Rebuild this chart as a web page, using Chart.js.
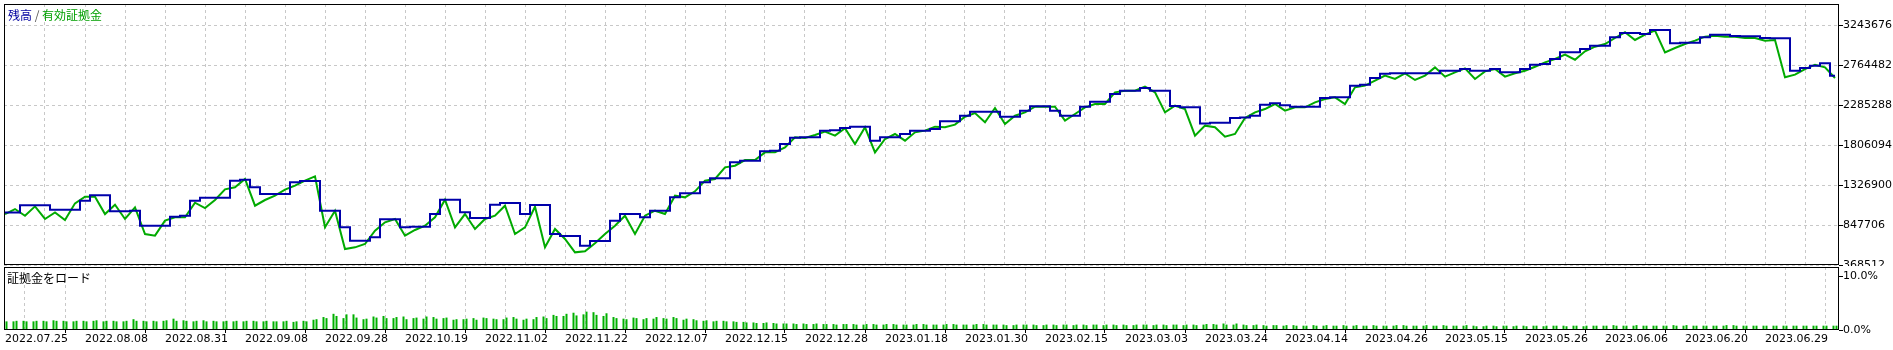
<!DOCTYPE html>
<html>
<head>
<meta charset="utf-8">
<script src="https://cdn.jsdelivr.net/npm/chart.js@4.4.0/dist/chart.umd.min.js"></script>
<style>
html, body { margin: 0; padding: 0; background: #fff; }
#wrap { position: relative; width: 1893px; height: 350px; overflow: hidden; background: #fff; }
#mainBox { position: absolute; left: 0; top: 0; width: 1893px; height: 268px; }
#loadBox { position: absolute; left: 0; top: 266px; width: 1893px; height: 84px; background: #fff; }
.cap { position: absolute; font: 12px "Noto Sans CJK JP", sans-serif; line-height: 14px; white-space: nowrap; }
</style>
</head>
<body>
<div id="wrap">
  <div id="mainBox"><canvas id="mainChart"></canvas></div>
  <div id="loadBox"><canvas id="loadChart"></canvas></div>
  <div class="cap" style="left:8px;top:8px"><span style="color:#0000a0">残高</span><span style="color:#555"> / </span><span style="color:#00a000">有効証拠金</span></div>
  <div class="cap" style="left:7px;top:271px;color:#000">証拠金をロード</div>
</div>
<script>
// --- DONNÉES ---
const dateLabels = ['2022.07.25','2022.08.08','2022.08.31','2022.09.08','2022.09.28','2022.10.19','2022.11.02','2022.11.22',
  '2022.12.07','2022.12.15','2022.12.28','2023.01.18','2023.01.30','2023.02.15','2023.03.03','2023.03.24',
  '2023.04.14','2023.04.26','2023.05.15','2023.05.26','2023.06.06','2023.06.20','2023.06.29'];

const priceTicks = [368512, 847706, 1326900, 1806094, 2285288, 2764482, 3243676];
const loadTicks = [0, 10];

// 残高 (balance)
const balance = [
  996000, 996000, 1083000, 1083000, 1083000, 1031000, 1031000, 1031000, 1139000, 1203000,
  1203000, 1011000, 1011000, 1019000, 840000, 840000, 840000, 947000, 959000, 1139000,
  1175000, 1175000, 1175000, 1379000, 1391000, 1299000, 1219000, 1219000, 1219000, 1359000,
  1375000, 1375000, 1019000, 1019000, 820000, 660000, 660000, 700000, 916000, 916000,
  820000, 828000, 828000, 979000, 1151000, 1151000, 999000, 932000, 932000, 1091000,
  1111000, 1111000, 979000, 1087000, 1087000, 740000, 716000, 716000, 600000, 656000,
  656000, 900000, 979000, 979000, 940000, 1019000, 1019000, 1179000, 1227000, 1227000,
  1359000, 1407000, 1407000, 1598000, 1618000, 1618000, 1730000, 1738000, 1818000, 1894000,
  1898000, 1898000, 1978000, 1982000, 2010000, 2026000, 2026000, 1858000, 1898000, 1898000,
  1938000, 1978000, 1978000, 1998000, 2090000, 2090000, 2157000, 2205000, 2205000, 2205000,
  2145000, 2145000, 2217000, 2269000, 2269000, 2217000, 2157000, 2157000, 2265000, 2325000,
  2325000, 2417000, 2457000, 2457000, 2489000, 2457000, 2457000, 2273000, 2257000, 2257000,
  2065000, 2073000, 2073000, 2129000, 2137000, 2157000, 2289000, 2305000, 2281000, 2265000,
  2265000, 2265000, 2369000, 2377000, 2377000, 2517000, 2529000, 2609000, 2661000, 2665000,
  2665000, 2665000, 2665000, 2665000, 2696000, 2696000, 2716000, 2696000, 2696000, 2716000,
  2677000, 2677000, 2716000, 2768000, 2776000, 2836000, 2916000, 2916000, 2956000, 2996000,
  2996000, 3096000, 3148000, 3148000, 3136000, 3184000, 3184000, 3024000, 3032000, 3032000,
  3096000, 3128000, 3128000, 3112000, 3108000, 3108000, 3088000, 3084000, 3084000, 2696000,
  2728000, 2756000, 2784000, 2637000
];

// 有効証拠金 (equity)
const equity = [
  979000, 1039000, 959000, 1071000, 920000, 999000, 908000, 1107000, 1187000, 1187000,
  979000, 1091000, 920000, 1059000, 740000, 720000, 900000, 940000, 940000, 1115000,
  1051000, 1147000, 1275000, 1299000, 1399000, 1079000, 1147000, 1199000, 1271000, 1319000,
  1379000, 1431000, 820000, 1019000, 560000, 580000, 620000, 780000, 880000, 920000,
  720000, 788000, 840000, 940000, 1151000, 820000, 979000, 800000, 920000, 959000,
  1079000, 740000, 820000, 1067000, 580000, 800000, 680000, 520000, 532000, 628000,
  740000, 840000, 959000, 740000, 959000, 1019000, 979000, 1199000, 1179000, 1251000,
  1379000, 1399000, 1538000, 1558000, 1626000, 1626000, 1718000, 1718000, 1778000, 1898000,
  1890000, 1926000, 1966000, 1918000, 2006000, 1818000, 2018000, 1718000, 1878000, 1938000,
  1858000, 1958000, 1978000, 2026000, 2018000, 2050000, 2145000, 2189000, 2078000, 2249000,
  2058000, 2157000, 2197000, 2265000, 2265000, 2265000, 2098000, 2177000, 2257000, 2297000,
  2297000, 2437000, 2457000, 2457000, 2505000, 2437000, 2197000, 2277000, 2237000, 1918000,
  2038000, 2018000, 1906000, 1938000, 2129000, 2197000, 2237000, 2297000, 2217000, 2257000,
  2257000, 2317000, 2357000, 2377000, 2297000, 2497000, 2517000, 2577000, 2637000, 2597000,
  2665000, 2585000, 2637000, 2736000, 2625000, 2677000, 2724000, 2597000, 2688000, 2716000,
  2625000, 2665000, 2696000, 2744000, 2796000, 2836000, 2888000, 2828000, 2928000, 2984000,
  3016000, 3088000, 3156000, 3064000, 3128000, 3176000, 2916000, 2968000, 3016000, 3056000,
  3104000, 3116000, 3104000, 3104000, 3088000, 3088000, 3056000, 3064000, 2617000, 2649000,
  2716000, 2768000, 2736000, 2609000
];

// 証拠金をロード (%), deux barres par pas
const loadA = [
  1.7,1.6,1.7,1.6,1.7,1.8,1.7,1.6, 1.7,1.7,1.6,1.7,1.6,2.0,1.7,1.7,
  1.7,2.1,1.8,1.6,1.8,1.7,1.6,1.6, 1.6,1.7,1.6,1.6,1.6,1.5,1.7,1.9,
  2.4,3.0,2.2,2.9,2.0,2.5,2.6,2.2, 2.5,2.2,2.1,2.4,2.2,1.9,2.0,2.2,
  2.3,2.1,2.0,2.4,1.9,2.0,2.5,2.8, 2.6,3.2,2.9,3.3,2.6,2.4,2.1,2.3,
  2.0,2.1,2.2,2.4,1.9,2.0,1.7,1.6, 1.7,1.6,1.5,1.4,1.3,1.3,1.2,1.2,
  1.2,1.1,1.1,1.1,1.1,1.1,1.0,1.1, 1.0,1.1,1.0,1.0,1.1,1.0,1.0,1.1,
  1.0,1.0,1.1,1.0,1.0,0.9,1.0,1.0, 0.9,1.0,1.0,0.9,1.0,1.0,0.9,1.0,
  1.0,0.9,1.0,0.9,1.0,1.0,0.9,1.0, 1.0,1.1,1.2,1.0,1.0,0.9,0.9,0.9,
  0.8,0.9,0.8,0.9,0.8,0.8,0.9,0.8, 0.8,0.9,0.8,0.8,0.9,0.8,0.8,0.8,
  0.9,0.8,0.8,0.8,0.7,0.8,0.8,0.7, 0.8,0.8,0.7,0.8,0.8,0.8,0.7,0.8,
  0.8,0.9,0.8,0.8,0.8,0.8,0.8,0.9, 0.8,0.8,0.8,0.8,0.8,0.9,0.8,0.8,
  0.8,0.8,0.8,0.8,0.8,0.8,0.8,0.8
];
const loadB = [
  1.6,1.7,1.6,1.7,1.6,1.7,1.6,1.7, 1.6,1.8,1.7,1.6,1.7,1.7,1.6,1.6,
  1.8,1.7,1.7,1.7,1.6,1.6,1.7,1.7, 1.7,1.6,1.7,1.6,1.7,1.6,1.6,2.0,
  2.2,2.6,2.9,2.3,2.1,2.3,2.2,2.4, 2.0,2.3,2.5,2.1,2.3,2.0,2.1,1.9,
  2.2,2.0,2.3,2.1,2.1,2.4,2.2,2.6, 3.0,2.7,3.4,2.8,3.1,2.2,2.0,2.2,
  2.2,2.4,2.1,2.2,2.1,1.8,1.8,1.7, 1.6,1.5,1.4,1.3,1.4,1.2,1.2,1.1,
  1.1,1.2,1.1,1.0,1.1,1.0,1.1,1.0, 1.1,1.0,1.0,1.1,1.0,1.0,1.1,1.0,
  1.0,1.1,1.0,1.0,0.9,1.0,1.0,0.9, 1.0,0.9,1.0,1.0,0.9,1.0,1.0,0.9,
  0.9,1.0,1.0,1.0,0.9,1.0,1.0,0.9, 1.1,1.0,1.0,1.2,0.9,1.0,0.8,0.9,
  0.9,0.8,0.8,0.8,0.9,0.8,0.8,0.9, 0.8,0.8,0.8,0.9,0.8,0.8,0.9,0.8,
  0.8,0.8,0.9,0.7,0.8,0.7,0.8,0.8, 0.7,0.8,0.8,0.8,0.7,0.8,0.8,0.8,
  0.8,0.8,0.8,0.9,0.8,0.8,0.8,0.8, 0.9,0.8,0.8,0.8,0.9,0.8,0.8,0.8,
  0.8,0.8,0.8,0.8,0.8,0.8,0.8,0.8
];

// --- STYLE ---
const GRID = '#c8c8c8';
const AXIS_FONT = { family: 'DejaVu Sans', size: 11 };
const X_MIN = -0.1, X_MAX = 183.4;   // 10 px par pas
const AXIS_W = 54;

Chart.defaults.font.family = 'DejaVu Sans';
Chart.defaults.animation = false;

const toXY = arr => arr.map((v, i) => ({ x: i, y: v }));

// cadre noir autour de la zone de tracé
const framePlugin = {
  id: 'frame',
  afterDraw(chart) {
    const { ctx, chartArea: a } = chart;
    ctx.save();
    ctx.strokeStyle = '#000';
    ctx.lineWidth = 1;
    ctx.strokeRect(a.left + 0.5, a.top + 0.5, a.right - a.left - 1, a.bottom - a.top - 1);
    ctx.restore();
  }
};

function gridTicks(scale) {
  const t = [];
  for (let v = 0; v < balance.length; v += 4) t.push({ value: v });
  scale.ticks = t;
}

// --- GRAPHE PRINCIPAL ---
new Chart(document.getElementById('mainChart'), {
  type: 'line',
  data: {
    datasets: [
      { label: '残高', data: toXY(balance), borderColor: '#0000aa', borderWidth: 2, pointRadius: 0, stepped: 'middle' },
      { label: '有効証拠金', data: toXY(equity), borderColor: '#00aa00', borderWidth: 2, pointRadius: 0, tension: 0 }
    ]
  },
  options: {
    responsive: true, maintainAspectRatio: false, events: [],
    layout: { padding: { left: 4, top: 4, right: 0, bottom: 3 } },
    plugins: { legend: { display: false }, tooltip: { enabled: false } },
    scales: {
      x: {
        type: 'linear', min: X_MIN, max: X_MAX,
        afterBuildTicks: gridTicks,
        afterFit: s => { s.height = 0; s.paddingLeft = 0; s.paddingRight = 0; },
        ticks: { display: false },
        grid: { color: c => (c.tick && c.tick.value === 0) ? 'rgba(0,0,0,0)' : GRID, drawTicks: false },
        border: { display: false, dash: [3, 3] }
      },
      y: {
        position: 'right', min: 368512, max: 3495253,
        afterBuildTicks: s => { s.ticks = priceTicks.map(v => ({ value: v })); },
        afterFit: s => { s.width = AXIS_W; s.paddingTop = 0; s.paddingBottom = 0; },
        ticks: { color: '#000', font: AXIS_FONT, padding: 0, callback: v => String(v) },
        grid: { color: GRID, tickColor: '#000', tickLength: 4 },
        border: { display: false, dash: [3, 3] }
      }
    }
  },
  plugins: [framePlugin]
});

// --- GRAPHE CHARGE DE MARGE ---
new Chart(document.getElementById('loadChart'), {
  type: 'bar',
  data: {
    datasets: [
      { data: toXY(loadA), backgroundColor: '#00b000', borderWidth: 0, categoryPercentage: 0.6, barPercentage: 0.667 },
      { data: toXY(loadB), backgroundColor: '#00b000', borderWidth: 0, categoryPercentage: 0.6, barPercentage: 0.667 }
    ]
  },
  options: {
    responsive: true, maintainAspectRatio: false, events: [],
    layout: { padding: { left: 4, top: 1, right: 0, bottom: 0 } },
    plugins: { legend: { display: false }, tooltip: { enabled: false } },
    scales: {
      x: {
        type: 'linear', min: X_MIN, max: X_MAX, offset: false,
        afterBuildTicks: gridTicks,
        afterFit: s => { s.height = 20; s.paddingLeft = 0; s.paddingRight = 0; },
        ticks: {
          color: '#000', font: AXIS_FONT, align: 'start', padding: 0,
          autoSkip: false, maxRotation: 0,
          callback: v => (v % 8 === 0 && dateLabels[v / 8]) ? dateLabels[v / 8] : ''
        },
        grid: {
          color: c => (c.tick && c.tick.value === 0) ? 'rgba(0,0,0,0)' : GRID,
          tickColor: c => (c.tick && c.tick.value % 8 === 0) ? '#000' : 'rgba(0,0,0,0)',
          tickLength: 3
        },
        border: { display: false, dash: [3, 3] }
      },
      y: {
        position: 'right', min: 0, max: 11.67,
        afterBuildTicks: s => { s.ticks = loadTicks.map(v => ({ value: v })); },
        afterFit: s => { s.width = AXIS_W; s.paddingTop = 0; s.paddingBottom = 0; },
        ticks: { color: '#000', font: AXIS_FONT, padding: 0, callback: v => v.toFixed(1) + '%' },
        grid: { drawOnChartArea: false, tickColor: '#000', tickLength: 4 },
        border: { display: false }
      }
    }
  },
  plugins: [framePlugin]
});
</script>
</body>
</html>
